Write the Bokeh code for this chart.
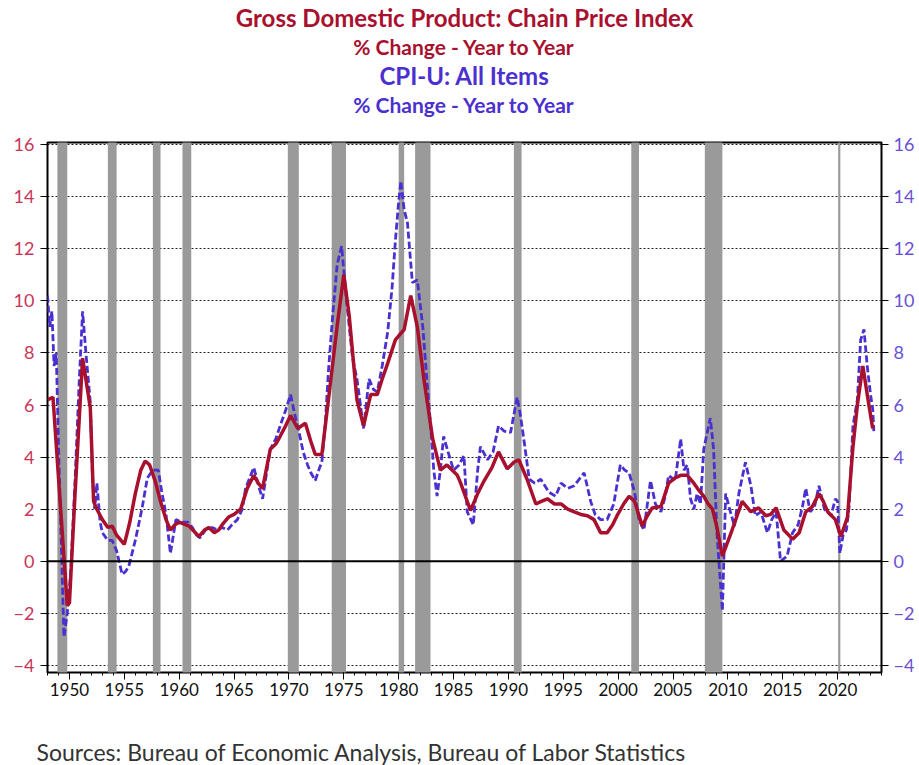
from bokeh.plotting import figure
from bokeh.models import (LinearAxis, FixedTicker, Title, Span, Range1d)
from bokeh.embed import file_html
from bokeh.resources import INLINE

# ---------------- data ----------------
gdp_t = [1948.0, 1948.5, 1949.8, 1950.0, 1950.5, 1951.2, 1951.9, 1952.2, 1952.5, 1953.0,
         1953.5, 1953.9, 1954.3, 1955.0, 1955.5, 1956.0, 1956.5, 1956.9, 1957.3, 1957.8,
         1958.3, 1958.8, 1959.2, 1959.6, 1960.0, 1960.9, 1961.8, 1962.3, 1962.7, 1963.2,
         1963.6, 1964.0, 1964.5, 1965.0, 1965.6, 1966.2, 1966.8, 1967.2, 1967.6, 1968.3,
         1968.8, 1969.2, 1969.7, 1970.15, 1970.8, 1971.5, 1972.0, 1972.4, 1973.0, 1973.6,
         1974.4, 1975.0, 1975.5, 1976.2, 1976.8, 1977.45, 1978.05, 1978.5, 1979.0, 1979.7,
         1980.5, 1981.1, 1981.7, 1982.3, 1983.1, 1983.8, 1984.4, 1985.35, 1985.65, 1986.55,
         1987.2, 1987.8, 1988.5, 1989.1, 1989.9, 1990.5, 1990.95, 1991.7, 1992.5, 1993.0,
         1993.55, 1994.2, 1994.8, 1995.4, 1996.0, 1996.6, 1997.2, 1997.8, 1998.4, 1999.0,
         1999.5, 1999.9, 2000.5, 2001.0, 2001.5, 2002.2, 2002.6, 2003.1, 2003.9, 2004.6,
         2005.2, 2005.7, 2006.3, 2006.9, 2007.4, 2007.8, 2008.2, 2008.6, 2009.0, 2009.5,
         2010.3, 2010.8, 2011.3, 2011.7, 2012.1, 2012.8, 2013.45, 2013.9, 2014.4, 2015.1,
         2015.9, 2016.5, 2017.1, 2017.7, 2018.3, 2018.7, 2019.1, 2019.8, 2020.3, 2020.9,
         2021.4, 2021.8, 2022.3, 2022.7, 2023.2]
gdp_v = [6.2, 6.3, -1.7, -1.6, 2.5, 7.8, 5.9, 2.3, 2.0, 1.6,
         1.3, 1.35, 1.0, 0.65, 1.5, 2.6, 3.5, 3.85, 3.7, 3.1,
         2.3, 1.6, 1.2, 1.4, 1.5, 1.35, 0.95, 1.2, 1.3, 1.1,
         1.2, 1.45, 1.7, 1.8, 2.0, 2.8, 3.3, 3.0, 2.8, 4.3,
         4.5, 4.8, 5.2, 5.6, 5.1, 5.3, 4.6, 4.1, 4.1, 6.2,
         9.05, 11.0, 9.4, 6.2, 5.2, 6.4, 6.4, 7.0, 7.6, 8.5,
         8.9, 10.2, 9.0, 7.0, 4.7, 3.5, 3.7, 3.3, 3.0, 1.95,
         2.6, 3.1, 3.6, 4.2, 3.55, 3.8, 3.9, 3.15, 2.2, 2.3,
         2.4, 2.2, 2.2, 2.0, 1.9, 1.8, 1.75, 1.6, 1.1, 1.1,
         1.4, 1.75, 2.2, 2.5, 2.3, 1.35, 1.7, 2.05, 2.1, 3.0,
         3.2, 3.3, 3.3, 3.0, 2.7, 2.5, 2.2, 2.0, 1.3, 0.2,
         1.1, 1.7, 2.3, 2.1, 1.9, 2.05, 1.75, 1.8, 2.05, 1.2,
         0.85, 1.1, 1.9, 2.1, 2.6, 2.3, 1.9, 1.6, 0.95, 1.7,
         4.4, 6.0, 7.5, 6.4, 5.1]

cpi_t = [1948.0, 1948.2, 1948.4, 1948.6, 1948.8, 1949.0, 1949.2, 1949.5, 1949.8, 1950.1,
         1950.5, 1950.9, 1951.2, 1951.5, 1951.9, 1952.1, 1952.3, 1952.5, 1952.8, 1953.0,
         1953.5, 1953.9, 1954.3, 1954.8, 1955.1, 1955.4, 1955.7, 1956.0, 1956.6, 1957.1,
         1957.6, 1958.1, 1958.4, 1958.8, 1959.2, 1959.7, 1960.3, 1960.8, 1961.2, 1961.6,
         1961.9, 1962.4, 1963.0, 1963.5, 1963.9, 1964.4, 1964.8, 1965.3, 1965.75, 1966.05,
         1966.8, 1967.3, 1967.6, 1968.3, 1968.8, 1969.2, 1969.7, 1970.15, 1970.5, 1970.9,
         1971.3, 1971.7, 1972.0, 1972.4, 1972.8, 1973.0, 1973.3, 1973.6, 1974.0, 1974.4,
         1974.8, 1975.3, 1975.8, 1976.2, 1976.8, 1977.3, 1977.7, 1978.05, 1978.5, 1979.0,
         1979.4, 1979.7, 1980.0, 1980.2, 1980.5, 1980.8, 1981.25, 1981.7, 1982.2, 1982.6,
         1982.9, 1983.2, 1983.5, 1983.8, 1984.1, 1984.5, 1985.0, 1985.5, 1985.95, 1986.25,
         1986.8, 1987.2, 1987.45, 1988.1, 1988.6, 1989.1, 1989.6, 1990.2, 1990.8, 1991.1,
         1991.4, 1991.9, 1992.4, 1992.95, 1993.7, 1994.3, 1994.8, 1995.4, 1996.0, 1996.9,
         1997.5, 1997.9, 1998.4, 1999.0, 1999.6, 2000.2, 2000.6, 2001.0, 2001.5, 2001.9,
         2002.35, 2002.95, 2003.4, 2003.9, 2004.3, 2004.6, 2005.2, 2005.7, 2006.0, 2006.3,
         2006.6, 2006.9, 2007.2, 2007.5, 2007.8, 2008.4, 2008.7, 2009.0, 2009.5, 2009.8,
         2010.1, 2010.6, 2011.0, 2011.6, 2012.1, 2012.5, 2013.0, 2013.6, 2014.0, 2014.4,
         2014.8, 2015.4, 2015.9, 2016.4, 2016.8, 2017.1, 2017.5, 2017.9, 2018.3, 2018.8,
         2019.4, 2019.8, 2020.0, 2020.2, 2020.5, 2020.8, 2021.05, 2021.4, 2021.8, 2022.1,
         2022.4, 2022.7, 2023.0, 2023.2, 2023.3]
cpi_v = [10.2, 9.0, 9.6, 7.5, 8.0, 4.5, 1.5, -2.9, -2.0, -0.5,
         3.0, 7.0, 9.6, 8.0, 6.1, 3.2, 2.0, 3.0, 1.5, 1.1,
         0.8, 0.8, 0.4, -0.5, -0.4, -0.2, 0.3, 0.8, 2.0, 3.2,
         3.5, 3.5, 2.7, 1.8, 0.3, 1.6, 1.5, 1.5, 1.3, 1.0,
         0.9, 1.2, 1.3, 1.2, 1.3, 1.2, 1.4, 1.6, 2.0, 2.8,
         3.6, 2.8, 2.4, 4.3, 4.7, 5.2, 5.8, 6.4, 5.7, 5.0,
         4.2, 3.7, 3.4, 3.1, 3.6, 3.8, 5.2, 7.3, 9.5, 11.4,
         12.1, 9.8, 7.8, 7.0, 5.1, 7.0, 6.6, 6.5, 7.5, 8.8,
         10.5, 12.3, 13.8, 14.6, 13.5, 13.0, 10.7, 10.8, 9.0, 6.8,
         5.3, 3.5, 2.5, 3.5, 4.8, 4.2, 3.5, 3.7, 4.05, 1.9,
         1.4, 3.5, 4.4, 3.9, 4.2, 5.2, 5.0, 4.95, 6.3, 5.6,
         4.7, 3.15, 3.0, 3.15, 2.65, 2.5, 3.0, 2.8, 2.9, 3.4,
         2.3, 1.8, 1.6, 1.6, 2.2, 3.7, 3.5, 3.4, 2.65, 1.6,
         1.2, 3.1, 2.2, 1.9, 2.5, 3.3, 3.1, 4.7, 3.5, 3.7,
         2.4, 2.0, 2.6, 2.2, 4.3, 5.5, 4.3, 1.1, -1.9, 2.6,
         2.1, 1.35, 2.6, 3.8, 2.9, 1.75, 1.9, 1.1, 1.6, 1.9,
         0.0, 0.2, 1.1, 1.4, 2.1, 2.8, 1.9, 2.1, 2.9, 2.0,
         1.75, 2.4, 2.3, 0.3, 1.0, 1.2, 2.1, 5.2, 6.2, 8.5,
         8.9, 7.5, 6.4, 5.85, 5.0]

rec_start = [1948.9, 1953.5, 1957.6, 1960.3, 1969.9, 1973.9, 1980.0, 1981.5, 1990.5, 2001.2, 2007.9, 2020.05]
rec_end   = [1949.8, 1954.3, 1958.3, 1961.1, 1970.9, 1975.2, 1980.5, 1982.9, 1991.2, 2001.9, 2009.5, 2020.25]

year_ticks = [1950, 1955, 1960, 1965, 1970, 1975, 1980, 1985, 1990, 1995, 2000, 2005, 2010, 2015, 2020]
y_ticks = [-4, -2, 0, 2, 4, 6, 8, 10, 12, 14, 16]

# ---------------- style ----------------
RED = "#A8102E"
BLUE = "#4B30D0"
FONT = "Lato"

p = figure(width=919, height=765, output_backend="svg", toolbar_location=None,
           x_range=Range1d(1948.0, 2024.0), y_range=Range1d(-4.27, 16.08),
           min_border_left=47, min_border_right=38, min_border_top=0, min_border_bottom=0)
p.background_fill_color = "white"
p.border_fill_color = "white"
p.outline_line_color = "black"
p.outline_line_width = 2

# recession bars
p.quad(left=rec_start, right=rec_end, bottom=-10, top=30, fill_color="#9A9A9A",
       line_color=None)

# grid
p.xgrid.visible = False
p.ygrid.ticker = FixedTicker(ticks=y_ticks)
p.ygrid.grid_line_color = "#222222"
p.ygrid.grid_line_dash = "2 2"
p.ygrid.grid_line_width = 1

p.add_layout(Span(location=0, dimension="width", line_color="black", line_width=2))

# series
p.line(cpi_t, cpi_v, line_color=BLUE, line_width=2.8, line_dash="7 3")
p.line(gdp_t, gdp_v, line_color=RED, line_width=3.5)

# axes
xa = p.xaxis[0]
xa.ticker = FixedTicker(ticks=year_ticks, minor_ticks=list(range(1948, 2025)))
xa.major_label_text_font = FONT
xa.major_label_text_font_size = "17px"
xa.major_label_text_color = "#111111"
xa.axis_line_color = None
xa.major_tick_in = 0
xa.major_tick_out = 7
xa.minor_tick_in = 0
xa.minor_tick_out = 3
xa.major_label_standoff = 3

ya = p.yaxis[0]
ya.ticker = FixedTicker(ticks=y_ticks)
ya.major_label_text_font = FONT
ya.major_label_text_font_size = "18px"
ya.major_label_text_color = "#C8365A"
ya.axis_line_color = None
ya.major_tick_in = 0
ya.major_tick_out = 7
ya.minor_tick_line_color = None
ya.major_label_standoff = 6

ra = LinearAxis(ticker=FixedTicker(ticks=y_ticks))
ra.major_label_text_font = FONT
ra.major_label_text_font_size = "18px"
ra.major_label_text_color = "#6A50D6"
ra.axis_line_color = None
ra.major_tick_in = 0
ra.major_tick_out = 7
ra.minor_tick_line_color = None
ra.major_label_standoff = 5
p.add_layout(ra, "right")

# titles (added from nearest-to-plot outward)
def add_title(text, color, size, pos="above", align="center", off=0, standoff=0, style="bold"):
    t = Title(text=text, align=align, text_color=color, text_font=FONT,
              text_font_size=size, text_font_style=style, offset=off, standoff=standoff)
    p.add_layout(t, pos)

add_title(" ", "white", "1px", standoff=23)          # spacer above the frame
add_title("% Change - Year to Year", BLUE, "21px")
add_title("CPI-U: All Items", BLUE, "24px")
add_title("% Change - Year to Year", RED, "21px")
add_title("Gross Domestic Product: Chain Price Index", RED, "24px")

add_title(" ", "white", "1px", standoff=34, pos="below")   # spacer below axis
add_title("Sources:  Bureau of Economic Analysis, Bureau of Labor Statistics", "#333333",
          "23px", pos="below", align="left", off=-11, standoff=0, style="normal")

open("out.html", "w").write(file_html(p, INLINE))
